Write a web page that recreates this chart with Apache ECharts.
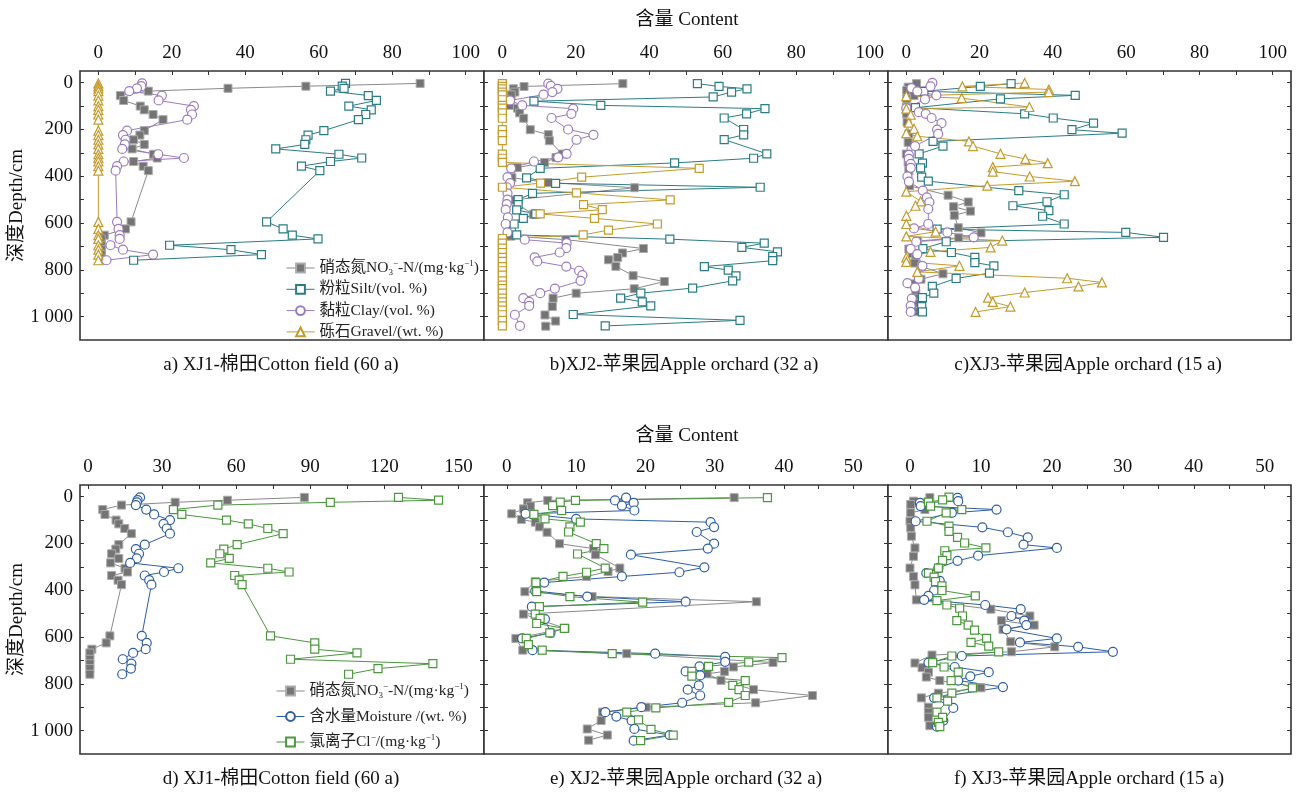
<!DOCTYPE html>
<html><head><meta charset="utf-8">
<script src="https://cdn.jsdelivr.net/npm/echarts@6/dist/echarts.min.js"></script>
<style>html,body{margin:0;padding:0;background:#fff}#c{width:1300px;height:793px}</style>
</head><body><div id="c"></div>
<script>
// ---------- DATA ----------
// XJ1 (cotton field) shared sampling depths, cm
const xj1Depth = [3,15,24,36,55,76,100,116,136,158,205,224,244,264,283,306,322,337,357,376,595,625,652,668,695,714,735,759];
const xj1Nitrate = [87.6,56.5,35.3,13.6,6.0,6.9,11.4,12.5,14.9,17.6,12.5,11.3,9.6,12.5,9.2,15.0,16.0,9.6,12.2,13.6,8.9,7.4,1.6,0.8,0.8,0.8,0.8,0.8];
const xj1Silt = [67.3,66.4,66.9,63.2,73.5,75.7,68.2,74.3,72.8,70.8,61.4,57.1,56.5,56.2,48.3,65.5,71.7,63.2,55.3,60.3,45.8,50.3,52.8,59.8,19.4,36.1,44.4,9.6];
const xj1Clay = [11.9,11.7,10.5,8.4,17.3,16.4,26.0,25.2,25.5,24.2,7.8,6.7,7.4,7.2,6.5,16.3,23.3,6.9,5.1,4.7,5.1,5.5,5.8,5.8,3.3,6.7,14.9,2.2];
const xj1Gravel = [0,0,0,0,0,0,0,0,0,0,0,0,0,0,0,0,0,0,0,0,0,0,0,0,0,0,0,0];
const xj1Moisture = [21.1,20.1,19.8,19.4,23.6,26.8,33.2,30.6,31.9,33.2,23.0,19.4,20.7,19.8,17.1,36.6,30.8,23.0,24.8,25.7,21.8,23.8,23.4,18.3,14.1,17.6,17.4,13.9];
const xj1Cl = [125.7,141.9,98.1,52.6,34.6,38.0,56.1,64.9,72.8,79.0,60.4,55.0,53.4,57.2,49.7,72.8,81.4,59.4,61.2,62.4,73.9,91.8,91.8,108.9,82.0,139.6,117.4,105.5];

// XJ2 (apple orchard 32 a): [value, depth]
const xj2Nitrate = [[32.8,4],[5.9,16],[3.0,26],[3.4,40],[2.4,52],[0.7,73],[2.1,97],[4.1,109],[4.7,129],[5.8,152],[7.6,201],[12.5,222],[12.8,248],[16.3,305],[14.6,320],[11.5,341],[4.1,363],[2.6,406],[12.3,427],[36.0,449],[2.4,502],[8.4,563],[1.3,606],[2.3,656],[17.3,671],[38.4,709],[32.7,728],[31.4,747],[28.9,757],[30.9,785],[35.6,825],[44.1,850],[35.9,881],[20.1,900],[13.8,921],[13.6,957],[11.6,993],[14.5,1019],[11.8,1041]];
const xj2Silt = [[53.1,4],[59.0,16],[66.6,26],[62.4,40],[57.4,61],[8.6,79],[26.8,97],[71.5,111],[66.5,133],[60.4,151],[65.7,200],[65.7,223],[60.4,243],[72.0,304],[68.4,323],[46.9,343],[10.3,366],[6.6,407],[14.5,430],[70.2,447],[8.2,473],[4.3,500],[4.3,521],[3.9,544],[9.1,561],[5.7,580],[3.2,604],[3.9,651],[45.6,669],[71.3,686],[65.2,704],[74.9,723],[73.6,743],[73.6,761],[55.0,786],[61.5,801],[63.6,826],[62.7,847],[51.8,878],[37.7,900],[32.2,921],[38.1,937],[40.4,954],[19.3,991],[64.7,1016],[28.0,1040]];
const xj2Clay = [[12.5,4],[13.2,14],[15.0,26],[13.6,40],[11.2,51],[2.1,76],[5.4,97],[19.3,111],[18.8,133],[13.4,151],[17.9,200],[24.8,223],[20.2,244],[17.5,304],[15.2,319],[8.6,337],[2.4,366],[1.4,404],[2.1,429],[1.2,447],[1.4,473],[1.4,500],[1.2,519],[0.9,543],[1.5,576],[0.9,604],[1.4,640],[6.1,671],[17.5,686],[17.4,707],[15.6,726],[8.8,747],[9.5,764],[17.4,786],[20.9,804],[21.8,823],[21.3,847],[14.3,880],[10.3,900],[5.7,921],[7.3,937],[7.3,954],[3.4,992],[4.8,1040]];
const xj2Gravel = [[0,4],[0,16],[0,26],[0,40],[0,52],[0,73],[0,97],[0,109],[0,129],[0,152],[0,201],[0,222],[0,248],[0,305],[0,323],[0,341],[53.6,366],[21.6,404],[10.4,429],[0,447],[20.2,471],[45.7,501],[22.1,521],[27.2,543],[10.3,561],[25.1,580],[42.2,604],[28.9,630],[22.0,651],[0,666],[0,686],[0,707],[0,726],[0,747],[0,764],[0,786],[0,804],[0,823],[0,847],[0,865],[0,880],[0,900],[0,921],[0,937],[0,954],[0,972],[0,992],[0,1016],[0,1040]];
const xj2Moisture = [[17.2,4],[15.6,16],[18.3,26],[16.6,38],[18.4,59],[2.7,73],[10.0,95],[29.4,109],[29.9,130],[27.4,151],[29.9,201],[29.0,222],[17.9,248],[28.5,302],[24.9,323],[16.6,341],[5.4,367],[4.1,403],[11.6,427],[25.8,449],[3.6,470],[5.5,523],[6.3,582],[2.2,606],[3.7,656],[21.4,671],[31.5,685],[31.5,706],[27.8,725],[25.8,747],[27.9,764],[27.7,807],[26.1,825],[27.9,850],[25.3,881],[19.4,900],[14.2,921],[15.8,940],[18.0,957],[18.4,993],[23.5,1019],[18.3,1043]];
const xj2Cl = [[37.6,4],[9.9,16],[7.7,23],[6.6,38],[7.9,59],[3.9,76],[5.5,95],[10.6,109],[9.1,129],[8.9,151],[12.9,201],[14.0,222],[10.2,245],[14.2,305],[11.5,323],[8.1,341],[4.2,367],[4.3,406],[9.1,427],[19.6,451],[4.7,470],[4.1,502],[4.8,520],[4.3,542],[8.3,563],[6.2,582],[2.8,606],[3.1,632],[5.1,656],[15.2,671],[39.7,688],[34.9,707],[29.1,725],[26.7,747],[26.7,767],[34.4,786],[32.6,807],[33.5,825],[34.4,850],[32.0,879],[21.5,903],[17.3,921],[19.0,954],[20.8,995],[24.0,1019],[19.3,1043]];

// XJ3 (apple orchard 15 a): [value, depth]
const xj3Nitrate = [[2.8,4],[0.5,19],[0.1,33],[2.1,55],[0.1,69],[0.0,105],[0.1,133],[0.2,169],[0.7,219],[0.5,255],[0.0,305],[0.5,341],[0.7,377],[0.9,441],[11.4,481],[16.9,510],[12.9,530],[17.5,549],[13.1,567],[14.2,620],[20.4,642],[14.3,663],[3.1,677],[0.7,711],[1.7,731],[2.6,750],[2.3,771],[4.2,786],[10.0,817],[4.0,840],[1.6,860],[2.6,900],[2.6,921],[2.6,943],[2.8,979]];
const xj3Silt = [[28.6,4],[20.2,16],[4.8,37],[46.1,54],[25.7,69],[2.5,107],[32.3,133],[40.1,151],[51.1,173],[45.2,201],[58.9,216],[7.3,251],[10.0,271],[3.5,304],[4.4,344],[3.9,364],[4.2,404],[6.0,421],[30.7,461],[43.1,479],[38.4,509],[29.1,526],[38.9,547],[37.2,571],[43.1,604],[8.4,626],[59.9,640],[70.2,661],[10.9,680],[4.5,709],[12.3,726],[18.7,747],[18.7,769],[23.9,783],[22.7,814],[13.6,837],[7.1,871],[7.5,900],[4.4,919],[4.2,957],[4.4,980]];
const xj3Clay = [[7.1,1],[6.6,16],[1.4,23],[3.0,37],[8.2,54],[5.1,71],[0.0,109],[3.4,126],[5.3,133],[6.9,151],[9.6,173],[8.4,201],[8.7,219],[2.4,271],[0.7,309],[0.7,326],[1.2,347],[1.2,364],[0.3,401],[0.7,423],[4.5,461],[5.6,490],[6.3,511],[6.0,540],[6.0,604],[2.1,623],[11.2,640],[18.4,661],[2.7,680],[1.2,711],[3.0,733],[4.4,783],[3.4,837],[0.3,857],[2.4,876],[1.5,923],[1.2,954],[1.2,980]];
const xj3Gravel = [[32.3,1],[15.3,16],[38.9,29],[38.9,40],[0,57],[15.1,66],[33.6,104],[0,111],[1.2,137],[0.7,171],[2.1,197],[0,216],[3.0,229],[17.1,251],[18.2,271],[25.7,304],[32.5,326],[38.6,344],[23.6,361],[23.6,380],[33.7,401],[46.0,421],[22.1,440],[0,466],[3.9,507],[2.5,526],[0,569],[0,604],[8.0,637],[0,657],[26.2,675],[23.0,704],[6.6,723],[0,747],[0,766],[14.5,783],[3.0,809],[43.9,836],[53.4,854],[47.0,871],[32.3,897],[22.3,919],[23.6,937],[28.4,957],[18.9,980]];
const xj3Moisture = [[6.7,5],[6.8,19],[1.4,26],[1.5,40],[12.2,55],[5.9,69],[0.8,105],[10.2,131],[13.8,152],[16.6,174],[16.0,205],[20.7,219],[9.6,252],[6.7,274],[4.0,305],[2.3,327],[4.2,360],[3.4,401],[2.6,424],[2.0,441],[10.6,463],[15.6,481],[14.3,510],[16.1,530],[16.4,549],[13.6,567],[20.7,606],[15.5,623],[23.7,642],[28.6,663],[7.3,681],[2.6,709],[6.3,728],[11.1,750],[8.5,768],[6.8,786],[13.1,814],[3.4,860],[6.1,903],[4.7,957],[3.8,983]];
const xj3Cl = [[5.5,2],[4.6,14],[2.6,23],[2.9,40],[7.3,55],[5.1,69],[2.4,105],[5.5,126],[5.5,148],[6.7,174],[7.7,198],[10.7,219],[4.9,231],[5.2,252],[4.6,272],[4.0,305],[2.6,327],[3.4,344],[3.6,363],[4.5,381],[4.5,401],[9.2,424],[3.8,444],[5.2,463],[7.0,477],[7.4,510],[6.6,530],[8.2,549],[9.1,570],[10.8,606],[8.6,623],[11.1,639],[12.5,663],[5.9,681],[3.2,709],[4.8,728],[6.8,750],[5.8,786],[8.8,817],[5.9,840],[3.8,860],[5.3,874],[3.8,921],[4.6,943],[4.0,965],[4.2,983]];

// Tick labels
const topXLabels = [0,20,40,60,80,100];
const topXTicks = [0,10,20,30,40,50,60,70,80,90,100];
const dXLabels = [0,30,60,90,120,150];
const dXTicks = [0,15,30,45,60,75,90,105,120,135,150];
const efXLabels = [0,10,20,30,40,50];
const efXTicks = [0,5,10,15,20,25,30,35,40,45,50];
const yLabels = [0,200,400,600,800,1000];
const yTicks = [0,100,200,300,400,500,600,700,800,900,1000];
const captions = ['a) XJ1-棉田Cotton field (60 a)','b)XJ2-苹果园Apple orchard (32 a)','c)XJ3-苹果园Apple orchard (15 a)',
                  'd) XJ1-棉田Cotton field (60 a)','e) XJ2-苹果园Apple orchard (32 a)','f) XJ3-苹果园Apple orchard (15 a)'];
const legendText = {
  '硝态氮':'硝态氮NO{sub|3}{sup|−}-N/(mg·kg{sup|−1})',
  '粉粒':'粉粒Silt/(vol. %)',
  '黏粒':'黏粒Clay/(vol. %)',
  '砾石':'砾石Gravel/(wt. %)',
  '含水量':'含水量Moisture /(wt. %)',
  '氯离子':'氯离子Cl{sup|−}/(mg·kg{sup|−1})'
};

// ---------- CHART ----------
const FONT = "'Liberation Serif','Times New Roman','Noto Sans CJK SC',serif";
const C = {n:'#8a8a8a', silt:'#2b7c85', clay:'#9c7bc2', gravel:'#c59b2e', moist:'#2f5ea6', cl:'#4c973f'};
const zip = (d, v) => v.map((x,i)=>[x, d[i]]);

const grids = [
  {left:80, top:71, width:404, height:269},
  {left:484, top:71, width:404, height:269},
  {left:888, top:71, width:403, height:269},
  {left:80, top:485, width:404, height:269},
  {left:484, top:485, width:404, height:269},
  {left:888, top:485, width:403, height:269}
].map(g=>Object.assign(g,{show:true, borderColor:'#333', borderWidth:1.6, backgroundColor:'#fff'}));

const xRanges = [[-5,105],[-5,105],[-5,105],[-3.2,160.3],[-3.3,55],[-3.1,53.7]];
const xLab = [topXLabels,topXLabels,topXLabels,dXLabels,efXLabels,efXLabels];
const xTk = [topXTicks,topXTicks,topXTicks,dXTicks,efXTicks,efXTicks];

const xAxis = xRanges.map((r,i)=>({
  type:'value', gridIndex:i, position:'top', min:r[0], max:r[1],
  axisLine:{show:false, onZero:false}, splitLine:{show:false},
  axisTick:{show:true, inside:true, length:4, customValues:xTk[i], lineStyle:{color:'#333',width:1}},
  axisLabel:{show:true, customValues:xLab[i], margin:8, fontFamily:FONT, fontSize:19, color:'#111'}
}));

const yAxis = [];
for (let i=0;i<6;i++){
  const showLab = (i===0||i===3);
  yAxis.push({
    type:'value', gridIndex:i, position:'left', inverse:true, min:-50, max:1100,
    name: showLab ? '深度Depth/cm' : '', nameLocation:'middle', nameRotate:90, nameGap:50,
    nameTextStyle:{fontFamily:FONT, fontSize:19, color:'#111'},
    axisLine:{show:false, onZero:false}, splitLine:{show:false},
    axisTick:{show:true, inside:true, length:4, customValues:yTicks, lineStyle:{color:'#333',width:1}},
    axisLabel:{show:showLab, customValues:yLabels, margin:7, fontFamily:FONT, fontSize:19, color:'#111',
      formatter:v=> v===1000 ? '1 000' : String(v)}
  });
  yAxis.push({
    type:'value', gridIndex:i, position:'right', inverse:true, min:-50, max:1100,
    axisLine:{show:false, onZero:false}, splitLine:{show:false},
    axisTick:{show:true, inside:true, length:4, customValues:yTicks, lineStyle:{color:'#333',width:1}},
    axisLabel:{show:false}
  });
}

function S(name, data, g, color, symbol, size, filled){
  return {
    type:'line', name, data, xAxisIndex:g, yAxisIndex:g*2,
    symbol, symbolSize:size, showSymbol:true, clip:true,
    lineStyle:{color, width:1},
    itemStyle: filled ? {color:'#747474', borderColor:'#ababab', borderWidth:1}
                      : {color:'#ffffff', borderColor:color, borderWidth:1.2},
    emphasis:{disabled:true}, z: 3
  };
}

const series = [
  // a
  S('硝态氮', zip(xj1Depth,xj1Nitrate), 0, C.n, 'rect', 8, true),
  S('粉粒', zip(xj1Depth,xj1Silt), 0, C.silt, 'rect', 8, false),
  S('黏粒', zip(xj1Depth,xj1Clay), 0, C.clay, 'circle', 9, false),
  S('砾石', zip(xj1Depth,xj1Gravel), 0, C.gravel, 'triangle', 9, false),
  // b
  S('硝态氮', xj2Nitrate, 1, C.n, 'rect', 8, true),
  S('粉粒', xj2Silt, 1, C.silt, 'rect', 8, false),
  S('黏粒', xj2Clay, 1, C.clay, 'circle', 9, false),
  S('砾石', xj2Gravel, 1, C.gravel, 'rect', 8, false),
  // c
  S('硝态氮', xj3Nitrate, 2, C.n, 'rect', 8, true),
  S('粉粒', xj3Silt, 2, C.silt, 'rect', 8, false),
  S('黏粒', xj3Clay, 2, C.clay, 'circle', 9, false),
  S('砾石', xj3Gravel, 2, C.gravel, 'triangle', 9, false),
  // d
  S('硝态氮', zip(xj1Depth,xj1Nitrate), 3, C.n, 'rect', 8, true),
  S('含水量', zip(xj1Depth,xj1Moisture), 3, C.moist, 'circle', 9, false),
  S('氯离子', zip(xj1Depth,xj1Cl), 3, C.cl, 'rect', 8, false),
  // e
  S('硝态氮', xj2Nitrate, 4, C.n, 'rect', 8, true),
  S('含水量', xj2Moisture, 4, C.moist, 'circle', 9, false),
  S('氯离子', xj2Cl, 4, C.cl, 'rect', 8, false),
  // f
  S('硝态氮', xj3Nitrate, 5, C.n, 'rect', 8, true),
  S('含水量', xj3Moisture, 5, C.moist, 'circle', 9, false),
  S('氯离子', xj3Cl, 5, C.cl, 'rect', 8, false)
];

const rich = {
  sub:{fontFamily:FONT, fontSize:9, verticalAlign:'bottom', lineHeight:18, color:'#222'},
  sup:{fontFamily:FONT, fontSize:9, verticalAlign:'top', lineHeight:18, color:'#222'}
};
const legBase = {
  orient:'vertical', itemWidth:28, itemHeight:11, selectedMode:false,
  lineStyle:{width:1},
  textStyle:{fontFamily:FONT, fontSize:15.5, color:'#222', lineHeight:18, rich},
  formatter:n=>legendText[n] || n
};

const texts = [];
texts.push({type:'text', x:687, y:20, style:{text:'含量 Content', font:"19px "+FONT, fill:'#111', textAlign:'center', textVerticalAlign:'middle'}});
texts.push({type:'text', x:687, y:436, style:{text:'含量 Content', font:"19px "+FONT, fill:'#111', textAlign:'center', textVerticalAlign:'middle'}});
const capX = [281,684,1088,281,686,1089];
captions.forEach((t,i)=>{
  texts.push({type:'text', x:capX[i], y: i<3 ? 365 : 779, style:{text:t, font:"19px "+FONT, fill:'#111', textAlign:'center', textVerticalAlign:'middle'}});
});

const chart = echarts.init(document.getElementById('c'), null, {renderer:'canvas'});
chart.setOption({
  animation:false,
  backgroundColor:'#fff',
  grid:grids, xAxis, yAxis, series,
  legend:[
    Object.assign({}, legBase, {data:['硝态氮','粉粒','黏粒','砾石'], left:281, top:254, itemGap:3.3}),
    Object.assign({}, legBase, {data:['硝态氮','含水量','氯离子'], left:271, top:677, itemGap:7.5})
  ],
  graphic:texts
});
</script></body></html>
